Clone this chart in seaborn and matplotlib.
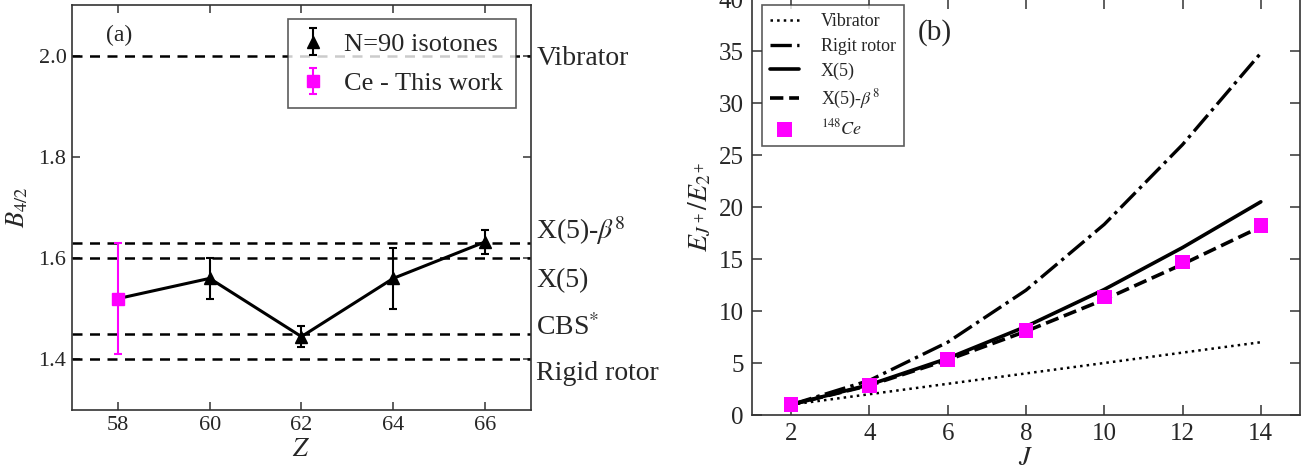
import matplotlib
matplotlib.use('Agg')
import matplotlib.pyplot as plt
import pandas as pd
import seaborn as sns

# panel (a): B(4/2) ratios vs Z
z_iso = [60, 62, 64, 66]
b_iso = [1.56, 1.445, 1.56, 1.632]
b_iso_err = [0.04, 0.02, 0.06, 0.023]
z_ce = [58]
b_ce = [1.52]
b_ce_err = [0.11]
ref_names = ['Vibrator', 'X(5)-$\\beta^8$', 'X(5)', 'CBS$^{*}$', 'Rigid rotor']
ref_values = [2.0, 1.63, 1.60, 1.45, 1.40]
ref_label_y = [1.995, 1.655, 1.555, 1.462, 1.372]

# panel (b): energy ratios vs J
J = [2, 4, 6, 8, 10, 12, 14]
vibrator = [1, 2, 3, 4, 5, 6, 7]
rigid_rotor = [1, 3.33, 7.0, 12.0, 18.33, 26.0, 34.8]
x5 = [1, 2.91, 5.45, 8.51, 12.07, 16.1, 20.5]
x5_beta8 = [1, 2.85, 5.3, 8.05, 11.1, 14.5, 18.1]
ce148 = [1, 2.86, 5.32, 8.15, 11.35, 14.7, 18.25]

sns.set_style('ticks')
plt.rcParams['font.family'] = ['Liberation Serif', 'DejaVu Serif']
plt.rcParams['mathtext.fontset'] = 'stix'

fig = plt.figure(figsize=(13.01, 4.69), dpi=100)
ax1 = fig.add_axes([0.0553, 0.1258, 0.3528, 0.8635])
ax2 = fig.add_axes([0.578, 0.1151, 0.4212, 0.887])

for ax in (ax1, ax2):
    for sp in ax.spines.values():
        sp.set_color('#333333')
        sp.set_linewidth(1.2)
        sp.set_visible(True)

# ---- panel (a)
for v in ref_values:
    ax1.axhline(v, color='black', ls='--', lw=1.8, dashes=(4, 3))
df_line = pd.DataFrame({'Z': z_ce + z_iso, 'B': b_ce + b_iso})
sns.lineplot(data=df_line, x='Z', y='B', ax=ax1, color='black', lw=2.2, legend=False)
ax1.errorbar(z_iso, b_iso, yerr=b_iso_err, fmt='^', color='black', ms=8,
             capsize=3, elinewidth=1.5, capthick=1.5, label='N=90 isotones')
ax1.errorbar(z_ce, b_ce, yerr=b_ce_err, fmt='s', color='magenta', ms=8,
             capsize=3, elinewidth=1.5, capthick=1.5, label='Ce - This work')
for name, y in zip(ref_names, ref_label_y):
    ax1.text(1.012, y, name, transform=ax1.get_yaxis_transform(), fontsize=20,
             va='center', ha='left')
ax1.text(0.074, 0.926, '(a)', transform=ax1.transAxes, fontsize=17, va='center')
ax1.set_xlim(57, 67)
ax1.set_ylim(1.3, 2.1)
ax1.set_xticks([58, 60, 62, 64, 66])
ax1.set_yticks([1.4, 1.6, 1.8, 2.0])
ax1.set_yticklabels(['1.4', '1.6', '1.8', '2.0'])
ax1.tick_params(which='both', direction='in', top=True, right=True, bottom=True,
                left=True, length=6, width=1.1, color='#333333', labelsize=16, pad=4)
ax1.set_xlabel('$Z$', fontsize=19, labelpad=3)
ax1.set_ylabel('$B_{4/2}$', fontsize=19, labelpad=6)
leg1 = ax1.legend(loc='upper right', bbox_to_anchor=(0.978, 0.978), fontsize=19,
                  frameon=True, fancybox=False, edgecolor='#333333',
                  handlelength=0.9, handletextpad=0.7, borderpad=0.5,
                  labelspacing=0.6, borderaxespad=0.2)
leg1.get_frame().set_linewidth(1.2)

# ---- panel (b)
df_b = pd.DataFrame({'J': J, 'vib': vibrator, 'rot': rigid_rotor,
                     'x5': x5, 'x5b8': x5_beta8, 'ce': ce148})
sns.lineplot(data=df_b, x='J', y='vib', ax=ax2, color='black', lw=1.8,
             ls=':', label='Vibrator')
sns.lineplot(data=df_b, x='J', y='rot', ax=ax2, color='black', lw=2.4,
             ls='-.', label='Rigit rotor')
sns.lineplot(data=df_b, x='J', y='x5', ax=ax2, color='black', lw=2.6,
             ls='-', label='X(5)')
sns.lineplot(data=df_b, x='J', y='x5b8', ax=ax2, color='black', lw=2.6,
             ls='--', label='X(5)-$\\beta^8$')
sns.scatterplot(data=df_b, x='J', y='ce', ax=ax2, color='magenta', marker='s',
                s=110, edgecolor='none', zorder=5, label='$^{148}Ce$')
ax2.text(0.303, 0.92, '(b)', transform=ax2.transAxes, fontsize=21, va='center')
ax2.set_xlim(1, 15)
ax2.set_ylim(0, 40)
ax2.set_xticks([2, 4, 6, 8, 10, 12, 14])
ax2.set_yticks([0, 5, 10, 15, 20, 25, 30, 35, 40])
ax2.tick_params(which='both', direction='in', top=True, right=True, bottom=True,
                left=True, length=7, width=1.1, color='#333333', labelsize=18, pad=6)
ax2.set_xlabel('$J$', fontsize=19, labelpad=2)
ax2.set_ylabel('$E_{J^+}/E_{2^+}$', fontsize=20, labelpad=4)
leg2 = ax2.legend(loc='upper left', bbox_to_anchor=(0.018, 0.985), fontsize=13,
                  frameon=True, fancybox=False, edgecolor='#333333',
                  handlelength=1.6, handletextpad=1.2, borderpad=0.45,
                  labelspacing=0.42, borderaxespad=0.0)
leg2.get_frame().set_linewidth(1.2)

fig.savefig('out.png', dpi=100)
